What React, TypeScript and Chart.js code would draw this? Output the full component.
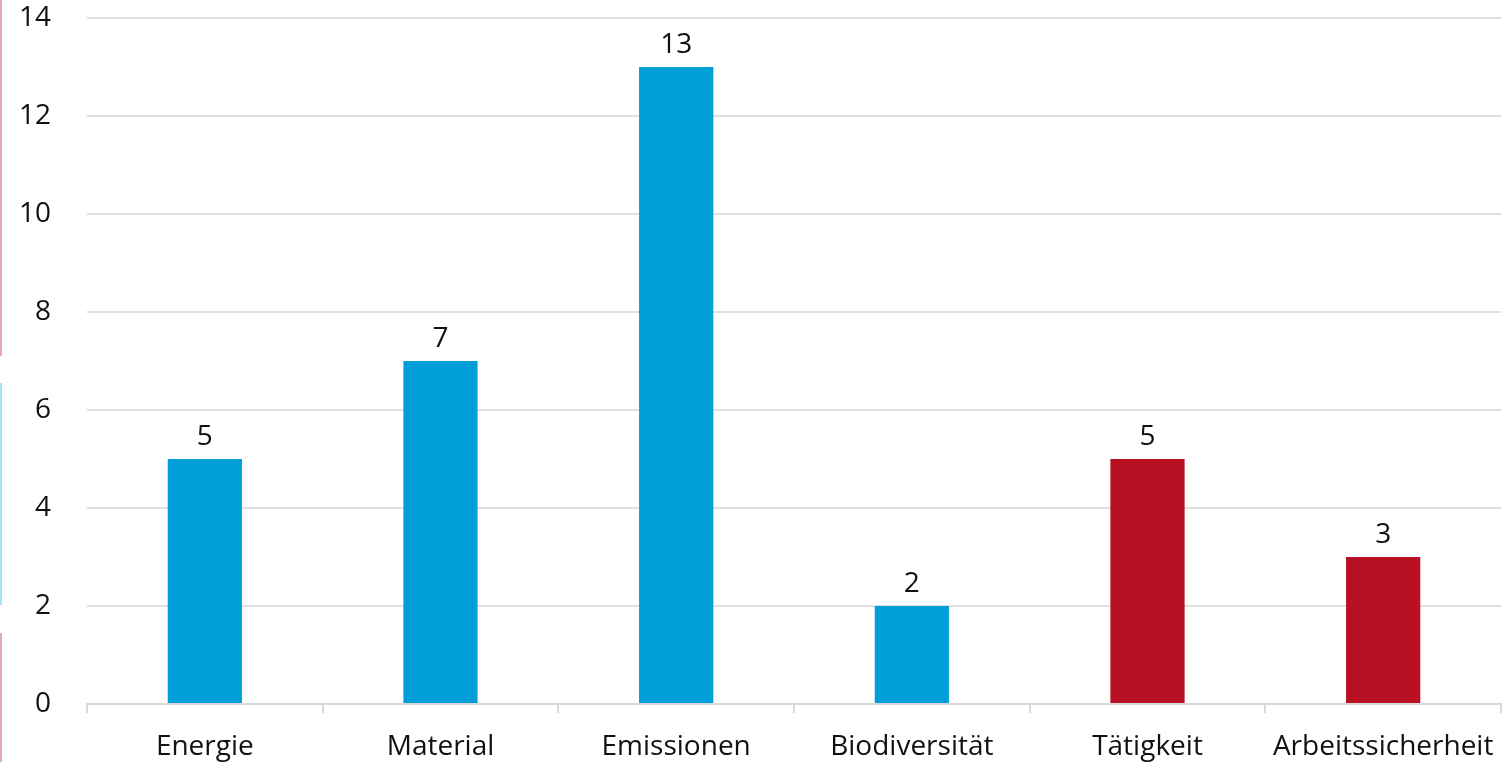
import React, { useEffect, useRef } from "react";
import { Chart, registerables } from "chart.js";

Chart.register(...registerables);

const categories = ["Energie", "Material", "Emissionen", "Biodiversität", "Tätigkeit", "Arbeitssicherheit"];
const values = [5, 7, 13, 2, 5, 3];
const barColors = ["#009FDA", "#009FDA", "#009FDA", "#009FDA", "#B81124", "#B81124"];
const yTicks = [0, 2, 4, 6, 8, 10, 12, 14];

const FONT = "'Open Sans', sans-serif";

const valueLabels = {
  id: "valueLabels",
  afterDatasetsDraw(chart: any) {
    const ctx = chart.ctx;
    const meta = chart.getDatasetMeta(0);
    ctx.save();
    ctx.font = `28px ${FONT}`;
    ctx.fillStyle = "#111111";
    ctx.textAlign = "center";
    ctx.textBaseline = "alphabetic";
    meta.data.forEach((bar: any, i: number) => {
      ctx.fillText(String(values[i]), bar.x, bar.y - 14);
    });
    ctx.restore();
  },
};

export default function App() {
  const ref = useRef<HTMLCanvasElement>(null);
  useEffect(() => {
    document.body.style.margin = "0";
    const chart = new Chart(ref.current!, {
      type: "bar",
      data: {
        labels: categories,
        datasets: [
          {
            data: values,
            backgroundColor: barColors,
            borderWidth: 0,
            barPercentage: 0.315,
            categoryPercentage: 1,
          },
        ],
      },
      options: {
        responsive: false,
        animation: false,
        layout: { padding: { top: 18, right: 10, left: 0, bottom: 0 } },
        plugins: { legend: { display: false }, tooltip: { enabled: false } },
        scales: {
          x: {
            grid: {
              offset: true,
              drawOnChartArea: false,
              drawTicks: true,
              tickLength: 9,
              color: "#d9d9d9",
              lineWidth: 2,
            },
            border: { display: true, color: "#d9d9d9", width: 2 },
            ticks: {
              font: { family: FONT, size: 28 },
              color: "#111111",
              padding: 17,
              maxRotation: 0,
              autoSkip: false,
            },
            afterFit(scale: any) {
              scale.height = 58;
              scale.paddingLeft = 0;
              scale.paddingRight = 0;
            },
          },
          y: {
            min: 0,
            max: 14,
            afterBuildTicks(scale: any) {
              scale.ticks = yTicks.map((v) => ({ value: v }));
            },
            grid: { drawTicks: false, color: "#e0e0e0", lineWidth: 2 },
            border: { display: false },
            ticks: {
              font: { family: FONT, size: 28 },
              color: "#111111",
              padding: 36,
            },
            afterFit(scale: any) {
              scale.width = 87;
              scale.paddingTop = 0;
              scale.paddingBottom = 0;
            },
          },
        },
      },
      plugins: [valueLabels],
    });
    return () => chart.destroy();
  }, []);
  return (
    <div style={{ position: "relative", width: 1511, height: 762 }}>
      <canvas ref={ref} width={1511} height={762} style={{ display: "block" }} />
      <div style={{ position: "absolute", left: 0, top: 0, width: 2, height: 356, background: "#e3aab3" }} />
      <div style={{ position: "absolute", left: 0, top: 383, width: 2, height: 222, background: "#a6e3f7" }} />
      <div style={{ position: "absolute", left: 0, top: 633, width: 2, height: 129, background: "#e3aab3" }} />
    </div>
  );
}
